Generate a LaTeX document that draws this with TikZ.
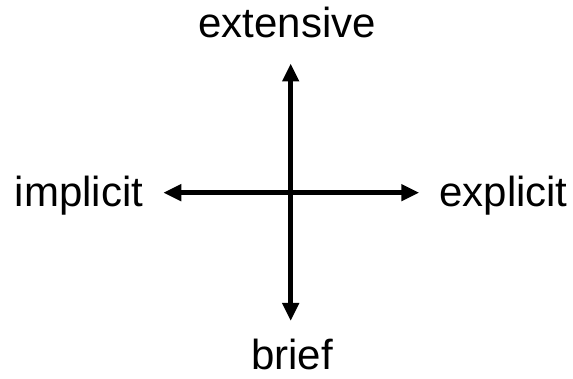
\documentclass[tikz,border=0pt]{standalone}
\usepackage{fontspec}
\setmainfont{Liberation Sans}
\usetikzlibrary{arrows.meta}
\begin{document}
\begin{tikzpicture}[x=1pt,y=-1pt,
  lbl/.style={anchor=base,inner sep=0pt,font=\fontsize{42}{50}\selectfont},
  axis/.style={line width=5.5pt,{Triangle[width=16pt,length=18pt]}-{Triangle[width=16pt,length=18pt]}}]
\useasboundingbox (0,0) rectangle (573,379);
\node[lbl] (ext) at (287,38) {extensive};
\node[lbl] (imp) at (79,207) {implicit};
\node[lbl] (expl) at (503.5,207) {explicit};
\node[lbl] (brf) at (292,370) {brief};
\coordinate (top) at (290.7,63.5);
\coordinate (bot) at (290.7,321);
\coordinate (lft) at (163.3,192.7);
\coordinate (rgt) at (419.3,192.7);
\draw[axis] (bot) -- (top);
\draw[axis] (lft) -- (rgt);
\end{tikzpicture}
\end{document}
